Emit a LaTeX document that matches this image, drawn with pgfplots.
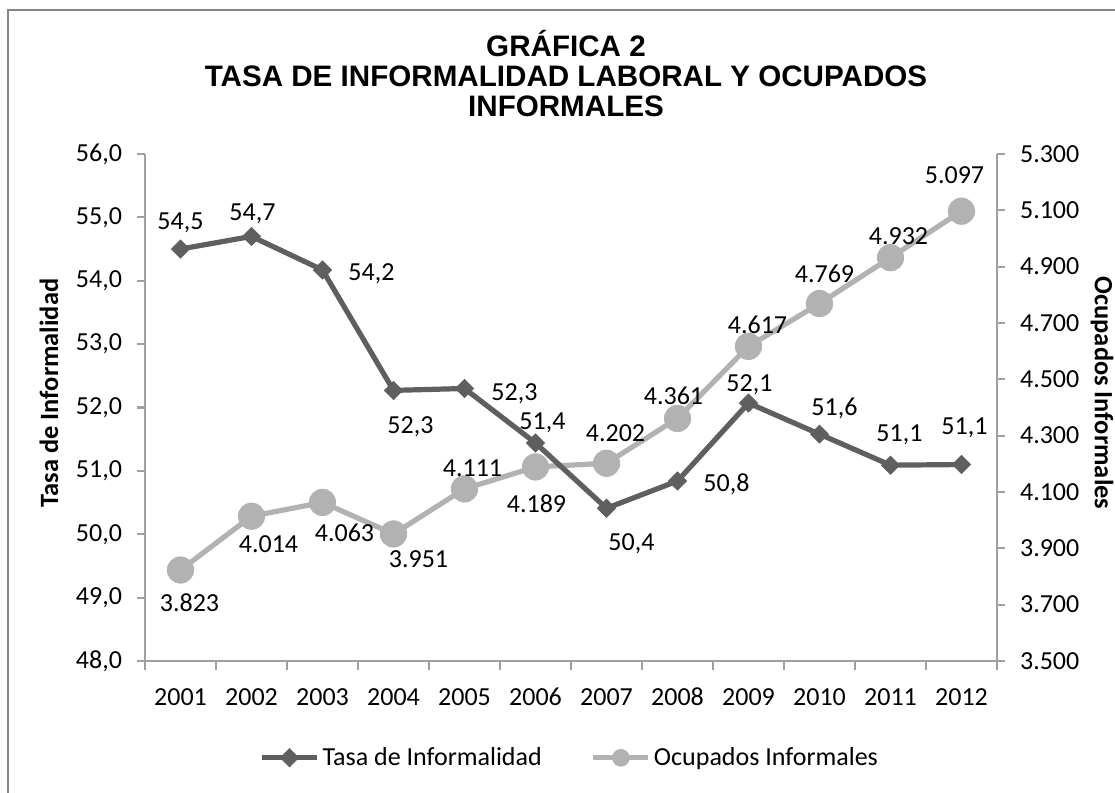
\documentclass[border=0pt]{standalone}
\usepackage{fontspec}
\setmainfont{Carlito}
\newfontfamily\titlefont{Liberation Sans}
\usepackage{pgfplots}
\usepackage{pgfplotstable}
\pgfplotsset{compat=1.18}
\definecolor{darkS}{RGB}{95,95,95}
\definecolor{lightS}{RGB}{178,178,178}
\definecolor{axisG}{RGB}{160,160,160}
\definecolor{frameG}{RGB}{134,134,134}

% dx, dy: label offsets in pixels (dy positive = up)
\pgfplotstableread{
x y dx dy lbl
1 54.5 0 28 54,5
2 54.7 1 24 54,7
3 54.17 49 -2 54,2
4 52.27 17 -35 52,3
5 52.3 50 -3 52,3
6 51.44 7 22 51,4
7 50.41 25 -34 50,4
8 50.84 49 -2 50,8
9 52.07 1 20 52,1
10 51.58 15 27 51,6
11 51.09 9 32 51,1
12 51.1 3 39 51,1
}\tasa

\pgfplotstableread{
x y dx dy lbl
1 3823 9 -33 3.823
2 4014 17 -28 4.014
3 4063 22 -30 4.063
4 3951 25 -25 3.951
5 4111 8 21 4.111
6 4189 1 -37 4.189
7 4202 9 30 4.202
8 4361 -4 23 4.361
9 4617 9 21 4.617
10 4769 5 30 4.769
11 4932 8 22 4.932
12 5097 -7 36 5.097
}\ocup

\pgfplotsset{
  base/.style={
    at={(72.5pt,66pt)}, anchor=south west,
    scale only axis, width=426pt, height=253.5pt,
    xmin=0.5, xmax=12.5, clip=false,
    tick align=outside, major tick length=4pt, minor tick length=4.5pt,
    axis line style={axisG, line width=1.1pt},
    every tick/.style={axisG, line width=1.1pt},
    tick label style={font=\fontsize{13pt}{15pt}\selectfont, black},
    nodes near coords,
    point meta=explicit symbolic,
    visualization depends on={\thisrow{dx} \as \dx},
    visualization depends on={\thisrow{dy} \as \dy},
    every node near coord/.append style={anchor=center, font=\fontsize{13pt}{15pt}\selectfont, black, inner sep=0pt,
      text height=8.6pt, text depth=0pt,
      xshift={0.5pt*\dx}, yshift={0.5pt*\dy}},
  },
  darkstyle/.style={color=darkS, line width=2.6pt, mark=square*, mark size=3.2pt,
    mark options={rotate=45, fill=darkS, draw=darkS, line width=0.4pt}},
  lightstyle/.style={color=lightS, line width=2.6pt, mark=*, mark size=6.6pt,
    mark options={fill=lightS, draw=lightS, line width=0.4pt}},
}

\begin{document}
\begin{tikzpicture}
\useasboundingbox (0,0) rectangle (557.5pt,396.5pt);

% right axis: Ocupados Informales (drawn first, beneath)
\begin{axis}[base,
  ymin=3500, ymax=5300,
  axis x line=none, axis y line*=right,
  ytick={3500,3700,...,5300},
  yticklabel style={/pgf/number format/fixed, /pgf/number format/precision=0,
    /pgf/number format/1000 sep={.}, /pgf/number format/assume math mode=true, xshift=4pt},
]
\addplot[lightstyle] table[x=x, y=y, meta=lbl] {\ocup};
\end{axis}

% left axis: Tasa de Informalidad
\begin{axis}[base,
  ymin=48, ymax=56,
  axis x line*=bottom, axis y line*=left,
  ytick={48,49,...,56},
  yticklabel style={/pgf/number format/fixed, /pgf/number format/fixed zerofill,
    /pgf/number format/precision=1, /pgf/number format/use comma,
    /pgf/number format/assume math mode=true, xshift=-4pt},
  xtick={1,...,12},
  xticklabels={2001,2002,2003,2004,2005,2006,2007,2008,2009,2010,2011,2012},
  major x tick style={draw=none},
  minor xtick={0.5,1.5,...,12.5},
  xticklabel style={yshift=-6pt, text height=8.6pt, text depth=0pt},
  legend style={at={(axis description cs:0.499,-0.191)}, anchor=center, draw=none, fill=none,
    legend columns=2, font=\fontsize{13pt}{15pt}\selectfont,
    /tikz/every even column/.append style={column sep=23pt},
    nodes={inner sep=1.5pt}},
  legend cell align=left,
  legend image code/.code={\draw[mark repeat=2, mark phase=2, #1] plot coordinates {(0pt,0pt) (13.75pt,0pt) (27.5pt,0pt)};},
]
\addplot[darkstyle] table[x=x, y=y, meta=lbl] {\tasa};
\addlegendentry{Tasa de Informalidad}
\addlegendimage{color=lightS, line width=2.6pt, mark=*, mark size=4.2pt, mark options={fill=lightS, draw=lightS, line width=0.4pt}}
\addlegendentry{Ocupados Informales}
\end{axis}

% frame
\draw[frameG, line width=1pt] (4pt,0pt) -- (4pt,391.5pt) -- (557.5pt,391.5pt);

% axis titles
\node[rotate=90, font=\bfseries\fontsize{13.2pt}{15pt}\selectfont] at (24.5pt,200pt) {Tasa de Informalidad};
\node[rotate=-90, font=\bfseries\fontsize{13.2pt}{15pt}\selectfont] at (551pt,200pt) {Ocupados Informales};

% chart title
\begin{scope}[every node/.style={font=\titlefont\bfseries\fontsize{14.8pt}{16pt}\selectfont, anchor=base, inner sep=0pt}]
\node at (283pt,368pt) {GRÁFICA 2};
\node at (283pt,353pt) {TASA DE INFORMALIDAD LABORAL Y OCUPADOS};
\node at (283pt,338pt) {INFORMALES};
\end{scope}
\end{tikzpicture}
\end{document}
